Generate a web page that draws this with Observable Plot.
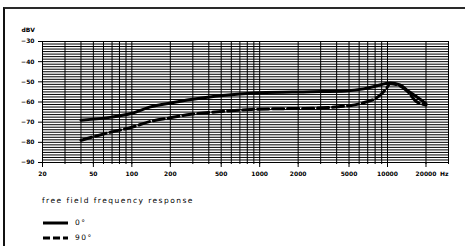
<!DOCTYPE html>
<html><head><meta charset="utf-8">
<script src="https://cdn.jsdelivr.net/npm/d3@7"></script>
<script src="https://cdn.jsdelivr.net/npm/@observablehq/plot@0.6"></script>
<style>
html,body{margin:0;padding:0;background:#fff}
body{width:465px;height:246px;overflow:hidden;position:relative;font-family:"DejaVu Sans",sans-serif;color:#000}
#frame{position:absolute;left:3px;top:7px;right:-5px;bottom:-5px;border-top:2px solid #2a2a2a;border-left:2px solid #111}
#chart{position:absolute;left:0;top:0}
.lg{position:absolute;font-size:7.5px;letter-spacing:1.45px;line-height:1;white-space:nowrap}
svg.key{position:absolute}
</style></head><body>
<div id="frame"></div>
<div id="chart"></div>
<div class="lg" id="title" style="left:42px;top:197px"></div>
<svg class="key" style="left:42px;top:219px" width="28" height="8"><line x1="1" x2="26" y1="4" y2="4" stroke="#000" stroke-width="3"/></svg>
<div class="lg" id="k0" style="left:75px;top:219px"></div>
<svg class="key" style="left:42px;top:234px" width="28" height="8"><line x1="1" x2="26" y1="4" y2="4" stroke="#000" stroke-width="3" stroke-dasharray="7,3"/></svg>
<div class="lg" id="k90" style="left:75px;top:234px"></div>
<script>
// Data
const seriesNames = ["0°", "90°"];
const legendTitle = "free field frequency response";

const freq0  = [40, 70, 100, 140, 200, 350, 600, 1000, 2500, 4700, 6500, 8000, 10500, 12500, 14500, 17000, 20000];
const level0 = [-69, -67.5, -65.6, -62.4, -60.5, -58, -56.4, -55.4, -54.9, -54.5, -53.5, -52.2, -50.6, -51.5, -54.5, -57.5, -60.8];

const freq90  = [40, 68, 100, 140, 200, 290, 500, 860, 1570, 2250, 5200, 6800, 8000, 9000, 9650, 10500, 12500, 14500, 16600, 20000];
const level90 = [-79, -75, -72.5, -69.6, -67.8, -66.1, -64.7, -63.7, -63.3, -63.2, -61.7, -60, -58.4, -55.9, -53.9, -51, -52, -55, -59.5, -61.5];

const xTickValues = [20, 50, 100, 200, 500, 1000, 2000, 5000, 10000, 20000];
const xGridValues = [20, 30, 40, 50, 60, 70, 80, 90, 100, 200, 300, 400, 500, 600, 700, 800, 900,
  1000, 2000, 3000, 4000, 5000, 6000, 7000, 8000, 9000, 10000, 20000, 30000];
const yTickValues = [-30, -40, -50, -60, -70, -80, -90];
const yGridValues = d3.range(-90, -29.9, 1.25);
const xDomain = [20, 30000];
const yDomain = [-90, -30];

const d0 = freq0.map((f, i) => ({f, v: level0[i]}));
const d90 = freq90.map((f, i) => ({f, v: level90[i]}));

const chart = Plot.plot({
  width: 465,
  height: 186,
  marginLeft: 42,
  marginRight: 17,
  marginTop: 41,
  marginBottom: 24,
  style: {fontFamily: "DejaVu Sans", fontSize: "6px", fontWeight: "bold", color: "#000", background: "transparent"},
  x: {type: "log", domain: xDomain},
  y: {domain: yDomain},
  marks: [
    Plot.ruleY(yGridValues, {stroke: "#000", strokeWidth: 1}),
    Plot.ruleX(xGridValues, {stroke: "#000", strokeWidth: 1}),
    Plot.axisY(yTickValues, {tickSize: 4, tickPadding: 4, label: null}),
    Plot.axisX(xGridValues, {tickSize: 2, tickFormat: () => "", label: null}),
    Plot.axisX(xTickValues, {tickSize: 5, tickFormat: () => "", label: null}),
    Plot.text(xTickValues, {x: d => d, text: d => String(d), frameAnchor: "bottom", dy: 12, lineAnchor: "middle"}),
    Plot.line(d0, {x: "f", y: "v", stroke: "#000", strokeWidth: 3, curve: "monotone-x"}),
    Plot.line(d90, {x: "f", y: "v", stroke: "#000", strokeWidth: 3, strokeDasharray: "11,4", curve: "monotone-x"}),
    Plot.text(["dBV"], {frameAnchor: "top-left", dx: -21, dy: -11, textAnchor: "start", lineAnchor: "middle"}),
    Plot.text(["Hz"], {frameAnchor: "bottom-right", dx: 0, dy: 12, textAnchor: "end", lineAnchor: "middle"})
  ]
});
document.getElementById("chart").appendChild(chart);
document.getElementById("title").textContent = legendTitle;
document.getElementById("k0").textContent = seriesNames[0];
document.getElementById("k90").textContent = seriesNames[1];
</script>
</body></html>
